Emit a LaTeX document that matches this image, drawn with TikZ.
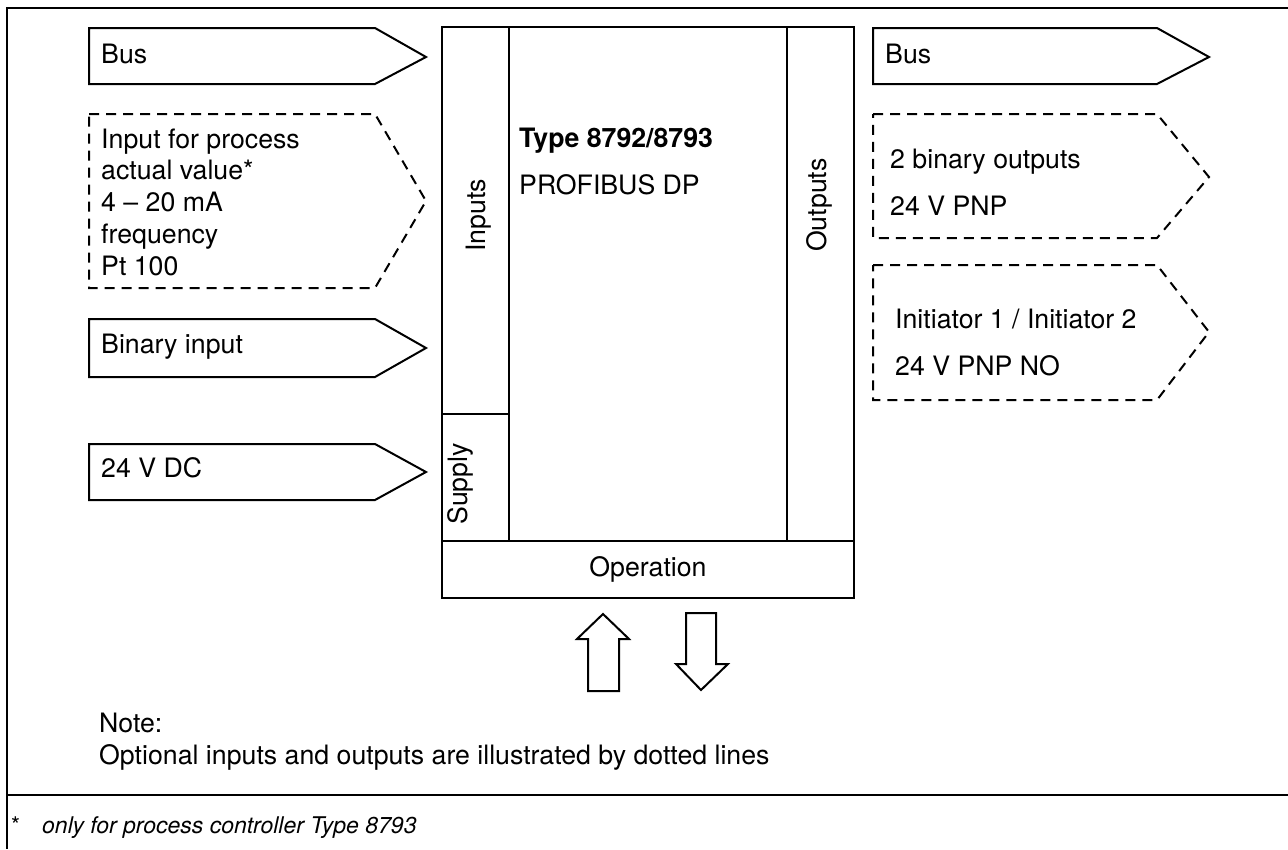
\documentclass[tikz,border=0pt]{standalone}
\usepackage{fontspec}
\setmainfont{TeX Gyre Heros}
\begin{document}
\begin{tikzpicture}[x=1pt,y=-1pt,line join=miter,
  frameline/.style={line width=1.2pt},
  solidline/.style={line width=2pt},
  dashline/.style={line width=2pt,dash pattern=on 10pt off 7pt},
  lbl/.style={inner sep=0pt,anchor=base west,align=left,font=\fontsize{26.7}{31.75}\selectfont},
  vlbl/.style={inner sep=0pt,anchor=base west,rotate=90,font=\fontsize{26.7}{31.75}\selectfont},
  foot/.style={inner sep=0pt,anchor=base west,font=\fontsize{23}{27}\selectfont\itshape}]
\useasboundingbox (0,0) rectangle (1288,849);
% outer frame
\draw[frameline] (1288,8) -- (7,8) -- (7,849);
\draw[frameline] (7,795) -- (1288,795);
% left tags
\draw[solidline] (89,28) -- (375,28) -- (426,57) -- (375,84) -- (89,84) -- cycle;
\draw[dashline] (89,114) -- (375,114) -- (426,201) -- (375,288) -- (89,288) -- cycle;
\draw[solidline] (89,319) -- (375,319) -- (426,348) -- (375,377) -- (89,377) -- cycle;
\draw[solidline] (89,444) -- (375,444) -- (426,472) -- (375,500) -- (89,500) -- cycle;
% right tags
\draw[solidline] (873,28) -- (1157,28) -- (1209,57) -- (1157,84) -- (873,84) -- cycle;
\draw[dashline] (873,114) -- (1157,114) -- (1209,177) -- (1157,238) -- (873,238) -- cycle;
\draw[dashline] (873,265) -- (1157,265) -- (1209,332) -- (1157,400) -- (873,400) -- cycle;
% main box
\draw[solidline] (442,27) rectangle (854,598);
\draw[solidline] (509,27) -- (509,541);
\draw[solidline] (787,27) -- (787,541);
\draw[solidline] (442,541) -- (854,541);
\draw[solidline] (442,414) -- (509,414);
% operation arrows
\draw[solidline] (588,691) -- (619,691) -- (619,639) -- (629,639) -- (603,614) -- (577,639) -- (588,639) -- cycle;
\draw[solidline] (686,613) -- (716,613) -- (716,664) -- (728,664) -- (701,690) -- (676,664) -- (686,664) -- cycle;
% texts
\node[lbl] (busin) at (101,63) {Bus};
\node[lbl] (procin) at (101,275) {Input for process\\actual value*\\4 – 20 mA\\frequency\\Pt 100};
\node[lbl] (binin) at (101,353) {Binary input};
\node[lbl] (dcin) at (101,477) {24 V DC};
\node[lbl] (busout) at (885,63) {Bus};
\node[lbl] (binout) at (890,168) {2 binary outputs};
\node[lbl] (binout2) at (890,215) {24 V PNP};
\node[lbl] (init) at (895,328) {Initiator 1 / Initiator 2};
\node[lbl] (init2) at (895,375) {24 V PNP NO};
\node[lbl,font=\fontsize{26.7}{31.75}\selectfont\bfseries] (type) at (519,147) {Type 8792/8793};
\node[lbl] (profi) at (519,194) {PROFIBUS DP};
\node[vlbl] (inputs) at (485,252) {Inputs};
\node[vlbl] (outputs) at (826,252) {Outputs};
\node[vlbl] (supply) at (467,525) {Supply};
\node[lbl,anchor=base] (oper) at (648,576) {Operation};
\node[lbl] (note) at (99,732) {Note:};
\node[lbl] (note2) at (99,764) {Optional inputs and outputs are illustrated by dotted lines};
\node[foot,font=\fontsize{23}{27}\selectfont] (star) at (11,833) {*};
\node[foot] (footnote) at (42,833) {only for process controller Type 8793};
\end{tikzpicture}
\end{document}
